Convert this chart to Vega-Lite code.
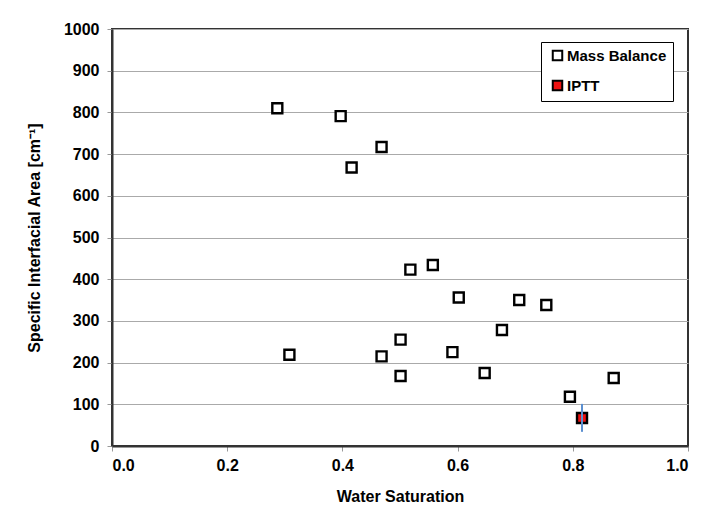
{
  "$schema": "https://vega.github.io/schema/vega-lite/v6.json",
  "autosize": "none",
  "width": 576,
  "height": 417,
  "padding": {"left": 112, "top": 29, "right": 26, "bottom": 75},
  "background": "white",
  "config": {
    "font": "Liberation Sans",
    "view": {"stroke": "#333333", "strokeWidth": 2},
    "axis": {
      "labelFont": "Liberation Sans", "labelFontWeight": "bold", "labelFontSize": 16, "labelColor": "#000000",
      "titleFont": "Liberation Sans", "titleFontWeight": "bold", "titleFontSize": 16, "titleColor": "#000000",
      "domainColor": "#333333", "domainWidth": 2, "tickColor": "#999999", "tickSize": 5
    }
  },
  "datasets": {
    "pts": [
      {"sw": 0.287, "a": 810, "series": "Mass Balance"},
      {"sw": 0.397, "a": 791, "series": "Mass Balance"},
      {"sw": 0.468, "a": 717, "series": "Mass Balance"},
      {"sw": 0.416, "a": 668, "series": "Mass Balance"},
      {"sw": 0.518, "a": 423, "series": "Mass Balance"},
      {"sw": 0.557, "a": 434, "series": "Mass Balance"},
      {"sw": 0.602, "a": 356, "series": "Mass Balance"},
      {"sw": 0.707, "a": 350, "series": "Mass Balance"},
      {"sw": 0.754, "a": 338, "series": "Mass Balance"},
      {"sw": 0.677, "a": 278, "series": "Mass Balance"},
      {"sw": 0.308, "a": 219, "series": "Mass Balance"},
      {"sw": 0.468, "a": 215, "series": "Mass Balance"},
      {"sw": 0.501, "a": 255, "series": "Mass Balance"},
      {"sw": 0.591, "a": 225, "series": "Mass Balance"},
      {"sw": 0.501, "a": 168, "series": "Mass Balance"},
      {"sw": 0.647, "a": 175, "series": "Mass Balance"},
      {"sw": 0.871, "a": 163, "series": "Mass Balance"},
      {"sw": 0.795, "a": 118, "series": "Mass Balance"},
      {"sw": 0.816, "a": 67, "series": "IPTT", "lo": 34, "hi": 101}
    ]
  },
  "data": {"name": "pts"},
  "layer": [
    {
      "mark": {"type": "point", "shape": "square", "filled": true, "size": 100, "stroke": "#000000", "strokeWidth": 2.4, "opacity": 1},
      "encoding": {
        "x": {"field": "sw", "type": "quantitative", "scale": {"domain": [0, 1], "nice": false},
              "axis": {"title": "Water Saturation", "values": [0, 0.2, 0.4, 0.6, 0.8, 1.0], "format": ".1f", "grid": false, "labelPadding": 6, "titlePadding": 15}},
        "y": {"field": "a", "type": "quantitative", "scale": {"domain": [0, 1000], "nice": false},
              "axis": {"title": "Specific Interfacial Area [cm⁻¹]", "values": [0,100,200,300,400,500,600,700,800,900,1000], "format": "d", "grid": true, "gridColor": "#aaaaaa", "gridWidth": 1, "labelPadding": 8, "titlePadding": 21}},
        "fill": {"field": "series", "type": "nominal",
                 "scale": {"domain": ["Mass Balance", "IPTT"], "range": ["#ffffff", "#ee1111"]},
                 "legend": {"title": null, "orient": "none", "legendX": 429, "legendY": 13,
                            "strokeColor": "#000000", "fillColor": "#ffffff", "padding": 6,
                            "labelFont": "Liberation Sans", "labelFontWeight": "bold", "labelFontSize": 15, "labelColor": "#000000",
                            "symbolType": "square", "symbolSize": 90, "symbolStrokeColor": "#000000", "symbolStrokeWidth": 2,
                            "rowPadding": 11, "labelOffset": 2, "symbolOffset": 3}}
      }
    },
    {
      "transform": [{"filter": "isValid(datum.lo)"}],
      "mark": {"type": "rule", "color": "#5b8fd0", "strokeWidth": 2},
      "encoding": {
        "x": {"field": "sw", "type": "quantitative"},
        "y": {"field": "lo", "type": "quantitative"},
        "y2": {"field": "hi"}
      }
    }
  ]
}
